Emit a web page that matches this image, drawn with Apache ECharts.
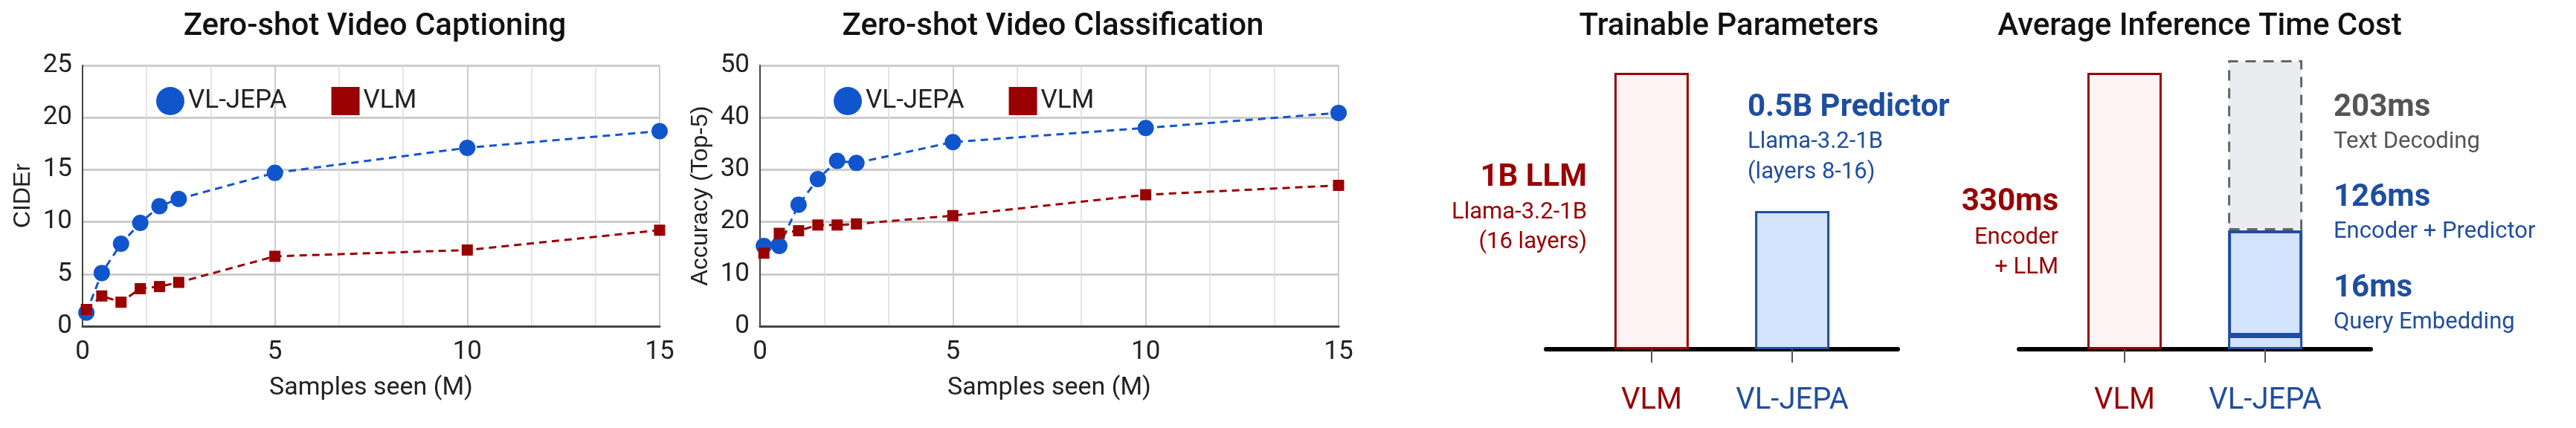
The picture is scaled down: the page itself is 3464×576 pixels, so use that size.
<!DOCTYPE html><html><head><meta charset="utf-8">
<script src="https://cdn.jsdelivr.net/npm/echarts@6/dist/echarts.min.js"></script>
<style>html,body{margin:0;background:#fff}#c{width:3464px;height:576px}</style></head><body><div id="c"></div>
<script>
const samplesX = [0.1,0.5,1,1.5,2,2.5,5,10,15];
const capJepa = [1.3,5.1,7.9,9.9,11.5,12.2,14.7,17.1,18.7];
const capVlm  = [1.6,2.9,2.3,3.6,3.8,4.2,6.7,7.3,9.2];
const clsJepa = [15.4,15.4,23.3,28.2,31.7,31.3,35.3,38.0,40.9];
const clsVlm  = [14.0,17.8,18.3,19.4,19.4,19.6,21.2,25.2,27.0];
const barCats = ['', 'VLM', '', 'VL-JEPA', ''];
const paramsB = ['-', 1, '-', 0.5, '-'];
const timeVlm = ['-', 330, '-', '-', '-'];
const timeQuery = ['-', '-', '-', 16, '-'];
const timeEncPred = ['-', '-', '-', 126, '-'];
const timeDecode = ['-', '-', '-', 203, '-'];

const BLUE='#1155CC', RED='#990000', DBLUE='#1F4E9F', F='Roboto';
const pair = a => a.map((v,i)=>[samplesX[i],v]);
function lineX(i){return {gridIndex:i,type:'value',min:0,max:15,interval:5,name:'Samples seen (M)',nameLocation:'middle',nameGap:66,
 nameTextStyle:{fontSize:34,fontFamily:F,color:'#222'},axisLabel:{fontSize:35,fontFamily:F,color:'#222',margin:18},
 axisLine:{show:true,onZero:false,lineStyle:{color:'#444',width:3}},axisTick:{show:false},splitLine:{lineStyle:{color:'#ccc',width:2}},
 minorTick:{show:false,splitNumber:3},minorSplitLine:{show:true,lineStyle:{color:'#ddd',width:1.5}}};}
function lineY(i,max,iv,name){return {gridIndex:i,type:'value',min:0,max:max,interval:iv,name:name,nameLocation:'middle',nameGap:64,
 nameTextStyle:{fontSize:32,fontFamily:'Liberation Sans',color:'#222'},axisLabel:{fontSize:35,fontFamily:F,color:'#222',margin:14},
 axisLine:{show:true,lineStyle:{color:'#444',width:2}},axisTick:{show:false},splitLine:{lineStyle:{color:'#ccc',width:3}}};}
function ls(name,data,i,color,sym,size){return {name,type:'line',xAxisIndex:i,yAxisIndex:i,data:pair(data),symbol:sym,symbolSize:size,
 itemStyle:{color},lineStyle:{color,width:3,type:[10,7]},z:3};}
function barX(i){return {gridIndex:i,type:'category',data:barCats,axisLine:{lineStyle:{color:'#000',width:6}},
 axisTick:{show:true,alignWithLabel:true,interval:(idx,v)=>v!=='',length:18,lineStyle:{color:'#555',width:2}},
 axisLabel:{interval:0,margin:50,fontSize:40,fontFamily:F,color:(v)=>v==='VLM'?RED:DBLUE}};}
function barY(i,max){return {gridIndex:i,type:'value',min:0,max:max,show:false,splitLine:{show:false}};}
const pink={color:'#FFF3F3',borderColor:RED,borderWidth:3};
const lblue={color:'#D3E3FC',borderColor:DBLUE,borderWidth:3};
function t(x,y,text,size,color,weight,align){return {type:'text',x,y,style:{text,fontSize:size,fontFamily:F,fill:color,fontWeight:weight||'normal',align:align||'left',verticalAlign:'middle'}};}
const ts={fontSize:42,fontWeight:500,fontFamily:F,color:'#111'};
const lg=(left)=>({left,top:112,itemWidth:38,itemHeight:38,itemGap:60,textStyle:{fontSize:35,fontFamily:F,color:'#222'},
   data:[{name:'VL-JEPA',icon:'circle'},{name:'VLM',icon:'rect'}]});
const option={
 animation:false,
 title:[
  {text:'Zero-shot Video Captioning',left:499,top:10,textAlign:'center',textStyle:ts},
  {text:'Zero-shot Video Classification',left:1411,top:10,textAlign:'center',textStyle:ts},
  {text:'Trainable Parameters',left:2320,top:10,textAlign:'center',textStyle:ts},
  {text:'Average Inference Time Cost',left:2953,top:10,textAlign:'center',textStyle:ts}],
 legend:[lg(205),lg(1116)],
 grid:[
  {left:111,top:88,width:776,height:351},
  {left:1022,top:88,width:778,height:351},
  {left:2079,top:98,width:473,height:372},
  {left:2715,top:81,width:473,height:389}],
 xAxis:[lineX(0),lineX(1),barX(2),barX(3)],
 yAxis:[lineY(0,25,5,'CIDEr'),lineY(1,50,10,'Accuracy (Top-5)'),barY(2,1),barY(3,345)],
 series:[
  ls('VL-JEPA',capJepa,0,BLUE,'circle',22),ls('VLM',capVlm,0,RED,'rect',15),
  ls('VL-JEPA',clsJepa,1,BLUE,'circle',22),ls('VLM',clsVlm,1,RED,'rect',15),
  {type:'bar',xAxisIndex:2,yAxisIndex:2,barWidth:100,clip:false,
   data:[{value:paramsB[0]},{value:paramsB[1],itemStyle:pink},{value:paramsB[2]},{value:paramsB[3],itemStyle:lblue},{value:paramsB[4]}]},
  {type:'bar',xAxisIndex:3,yAxisIndex:3,data:timeVlm,barWidth:100,stack:'a',clip:false,itemStyle:pink},
  {type:'bar',xAxisIndex:3,yAxisIndex:3,data:timeQuery,barWidth:100,stack:'a',clip:false,itemStyle:lblue},
  {type:'bar',xAxisIndex:3,yAxisIndex:3,data:timeEncPred,barWidth:100,stack:'a',clip:false,itemStyle:{color:'#D3E3FC',borderColor:DBLUE,borderWidth:4}},
  {type:'bar',xAxisIndex:3,yAxisIndex:3,data:timeDecode,barWidth:100,stack:'a',clip:false,itemStyle:{color:'#EBECF0',borderColor:'#666',borderWidth:3,borderType:[14,10]},z:1}
 ],
 graphic:[
  t(2134,239,'1B LLM',42,RED,'bold','right'),
  t(2134,286,'Llama-3.2-1B',31,RED,'normal','right'),
  t(2134,326,'(16 layers)',31,RED,'normal','right'),
  t(2350,145,'0.5B Predictor',42,DBLUE,'bold'),
  t(2350,191,'Llama-3.2-1B',31,DBLUE),
  t(2350,232,'(layers 8-16)',31,DBLUE),
  t(2768,272,'330ms',42,RED,'bold','right'),
  t(2768,320,'Encoder',31,RED,'normal','right'),
  t(2768,360,'+ LLM',31,RED,'normal','right'),
  t(3138,145,'203ms',42,'#555','bold'),
  t(3138,191,'Text Decoding',31,'#555'),
  t(3138,266,'126ms',42,DBLUE,'bold'),
  t(3138,312,'Encoder + Predictor',31,DBLUE),
  t(3138,388,'16ms',42,DBLUE,'bold'),
  t(3138,434,'Query Embedding',31,DBLUE)
 ]
};
echarts.init(document.getElementById('c')).setOption(option);
</script></body></html>
